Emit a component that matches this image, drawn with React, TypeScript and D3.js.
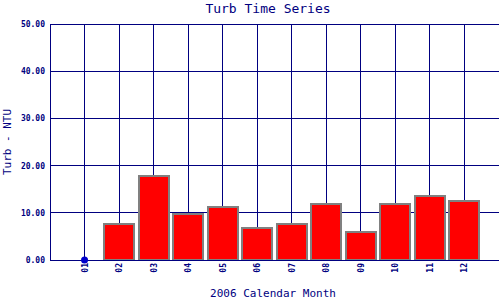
import React from "react";
import * as d3 from "d3";

const months = ["01", "02", "03", "04", "05", "06", "07", "08", "09", "10", "11", "12"];
const turb = [0, 7.6, 17.7, 9.7, 11.2, 6.7, 7.6, 11.8, 5.9, 11.8, 13.5, 12.4];
const yTicks = [0, 10, 20, 30, 40, 50];

export default function App() {
  const W = 500, H = 300;
  const left = 50, right = 499, top = 24, bottom = 260;
  const x = d3.scaleLinear().domain([0, 13]).range([left, right]);
  const y = d3.scaleLinear().domain([0, 50]).range([bottom, top]);
  const navy = "#000080";
  const mono = "'DejaVu Sans Mono', 'Liberation Mono', monospace";
  const barW = 30;
  return (
    <svg width={W} height={H} style={{ position: "absolute", left: 0, top: 0, background: "#fff" }}>
      <rect x={0} y={0} width={W} height={H} fill="#fff" />
      <g shapeRendering="crispEdges">
        {yTicks.map((t) => (
          <line key={"h" + t} x1={left} x2={right} y1={y(t)} y2={y(t)} stroke={navy} strokeWidth={1} />
        ))}
        {months.map((m, i) => (
          <line key={"v" + m} x1={x(i + 1)} x2={x(i + 1)} y1={top} y2={bottom} stroke={navy} strokeWidth={1} />
        ))}
        <line x1={left} x2={left} y1={top} y2={bottom} stroke={navy} strokeWidth={1} />
        {turb.map((v, i) =>
          v > 0 ? (
            <rect
              key={"b" + i}
              x={x(i + 1) - barW / 2}
              y={y(v)}
              width={barW}
              height={bottom - y(v)}
              fill="#ff0000"
              stroke="#808080"
              strokeWidth={2}
            />
          ) : null
        )}
        <line x1={left} x2={right} y1={bottom} y2={bottom} stroke={navy} strokeWidth={1} />
      </g>
      {turb.map((v, i) =>
        v > 0 ? null : <circle key={"c" + i} cx={x(i + 1)} cy={y(v)} r={3.5} fill="#0000cc" />
      )}
      {yTicks.map((t) => (
        <text key={"yt" + t} x={45} y={y(t) + 3} textAnchor="end" fontFamily={mono} fontSize={8} fontWeight="bold" fill={navy}>
          {t.toFixed(2)}
        </text>
      ))}
      {months.map((m, i) => (
        <text
          key={"xt" + m}
          transform={`translate(${x(i + 1) + 3},263) rotate(-90)`}
          textAnchor="end"
          fontFamily={mono}
          fontSize={8}
          fontWeight="bold"
          fill={navy}
        >
          {m}
        </text>
      ))}
      <text x={268} y={13} textAnchor="middle" fontFamily={mono} fontSize={13} fill={navy}>
        Turb Time Series
      </text>
      <text x={273} y={297} textAnchor="middle" fontFamily={mono} fontSize={11} fill={navy}>
        2006 Calendar Month
      </text>
      <text transform={`translate(11,142) rotate(-90)`} textAnchor="middle" fontFamily={mono} fontSize={11} fill={navy}>
        Turb - NTU
      </text>
    </svg>
  );
}
